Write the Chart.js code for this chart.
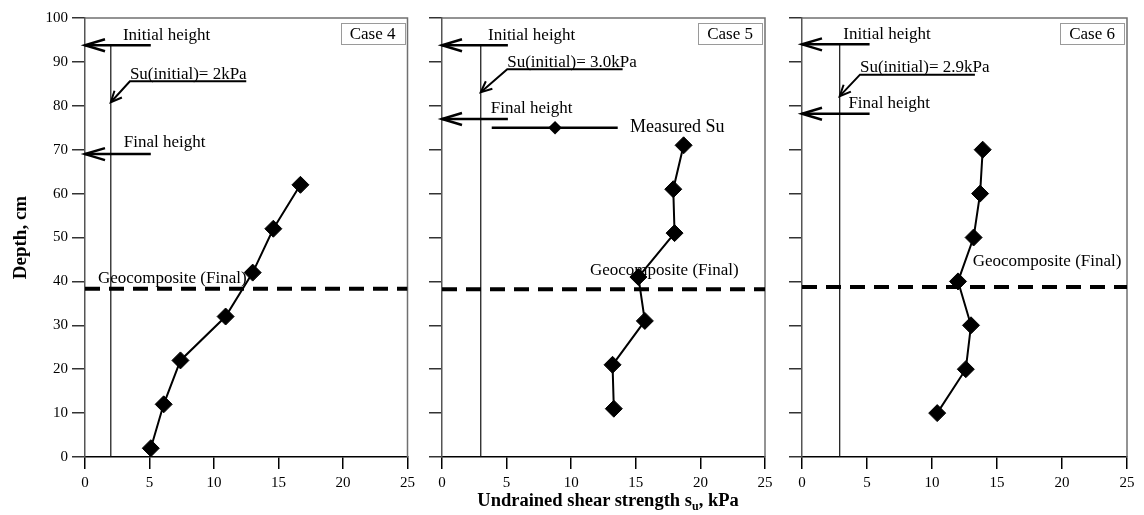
<!DOCTYPE html>
<html>
<head>
<meta charset="utf-8">
<script src="https://cdn.jsdelivr.net/npm/chart.js@4.4.1/dist/chart.umd.min.js"></script>
<style>
  html, body { margin: 0; padding: 0; background: #fff; }
  #wrap { position: relative; width: 1144px; height: 515px; overflow: hidden; background: #fff; }
  #wrap canvas { position: absolute; top: 0; }
  #xtitle {
    position: absolute; left: 408px; width: 400px; top: 489px;
    text-align: center; font: bold 18.5px "Liberation Serif", "Times New Roman", serif;
    line-height: 22px; color: #000; white-space: nowrap;
  }
  #xtitle sub { font-size: 12px; line-height: 0; vertical-align: -4px; }
</style>
</head>
<body>
<div id="wrap">
  <canvas id="p0" width="420" height="515" style="left:0px;width:420px;height:515px"></canvas>
  <canvas id="p1" width="360" height="515" style="left:420px;width:360px;height:515px"></canvas>
  <canvas id="p2" width="364" height="515" style="left:780px;width:364px;height:515px"></canvas>
  <div id="xtitle">Undrained shear strength s<sub>u</sub>, kPa</div>
</div>
<script>
// ---- measured profiles: depth (cm) and undrained shear strength (kPa) ----
const depthCase4 = [2, 12, 22, 32, 42, 52, 62];
const suCase4    = [5.1, 6.1, 7.4, 10.9, 13.0, 14.6, 16.7];
const depthCase5 = [11, 21, 31, 41, 51, 61, 71];
const suCase5    = [13.3, 13.2, 15.7, 15.2, 18.0, 17.9, 18.7];
const depthCase6 = [10, 20, 30, 40, 50, 60, 70];
const suCase6    = [10.4, 12.6, 13.0, 12.0, 13.2, 13.7, 13.9];

// ---- per-case annotations ----
const caseNames         = ['Case 4', 'Case 5', 'Case 6'];
const suInitial         = [2, 3.0, 2.9];
const suInitialText     = ['Su(initial)= 2kPa', 'Su(initial)= 3.0kPa', 'Su(initial)= 2.9kPa'];
const initialHeight     = [93.8, 93.8, 94.0];
const finalHeight       = [69, 77, 78.2];
const geocompositeDepth = [38.3, 38.2, 38.7];
const heightArrowTail   = [5.1, 5.1, 5.2];
const suLeaderStart     = [3.48, 5.05, 4.46];
const suLeaderEnd       = [12.5, 13.98, 13.3];
const suLeaderDepth     = [85.6, 88.3, 87.1];
const suLeaderTipDepth  = [80.8, 83.1, 82.2];
const initialLabelAt    = [[2.94, 95.1], [3.56, 95.1], [3.18, 95.3]];
const finalLabelAt      = [[3.0, 70.6], [3.77, 78.4], [3.57, 79.4]];
const geoLabelAt        = [[1.0, 39.7], [11.45, 41.5], [13.13, 43.6]];

// legend sample for the measured series (drawn in the Case 5 panel)
const legendSpan  = [3.85, 8.75, 13.6];
const legendDepth = 75;
const legendText  = 'Measured Su';
const legendTextSu = 14.55;

// ---- axes ----
const xTicks = [0, 5, 10, 15, 20, 25];
const yTicks = [0, 10, 20, 30, 40, 50, 60, 70, 80, 90, 100];

const SERIF = '"Liberation Serif", "Times New Roman", serif';
const depthSets = [depthCase4, depthCase5, depthCase6];
const suSets = [suCase4, suCase5, suCase6];

function pts(xs, ys) { return xs.map((v, i) => ({ x: v, y: ys[i] })); }

function drawHead(ctx, tip, from, len, half, width) {
  const ang = Math.atan2(tip.y - from.y, tip.x - from.x);
  const a = Math.atan2(half, len);
  const L = Math.hypot(len, half);
  ctx.save();
  ctx.strokeStyle = '#000';
  ctx.lineWidth = width;
  ctx.lineCap = 'butt';
  ctx.lineJoin = 'miter';
  ctx.beginPath();
  ctx.moveTo(tip.x - L * Math.cos(ang - a), tip.y - L * Math.sin(ang - a));
  ctx.lineTo(tip.x, tip.y);
  ctx.lineTo(tip.x - L * Math.cos(ang + a), tip.y - L * Math.sin(ang + a));
  ctx.stroke();
  ctx.restore();
}

const decor = {
  id: 'decor',
  beforeDatasetsDraw(chart) {
    const { ctx, chartArea: a, scales: { x, y } } = chart;
    const spec = chart.options.plugins.decor;
    ctx.save();
    // top and right frame
    ctx.strokeStyle = '#707070';
    ctx.lineWidth = 1.5;
    ctx.beginPath();
    ctx.moveTo(a.left, a.top);
    ctx.lineTo(a.right, a.top);
    ctx.lineTo(a.right, a.bottom);
    ctx.stroke();
    // annotation texts
    ctx.fillStyle = '#000';
    ctx.textAlign = 'left';
    spec.labels.forEach(l => {
      ctx.font = (l.size || 17) + 'px ' + SERIF;
      ctx.textBaseline = l.baseline || 'alphabetic';
      ctx.fillText(l.text, x.getPixelForValue(l.x), y.getPixelForValue(l.y));
    });
    ctx.restore();
  },
  afterDatasetsDraw(chart) {
    const { ctx } = chart;
    chart.data.datasets.forEach((ds, i) => {
      if (!ds.arrowHead) return;
      const els = chart.getDatasetMeta(i).data;
      const n = els.length;
      drawHead(ctx, els[n - 1], els[n - 2], ds.arrowHead.len, ds.arrowHead.half, ds.borderWidth);
    });
    // case tag
    const spec = chart.options.plugins.decor;
    const a = chart.chartArea;
    ctx.save();
    ctx.font = '17px ' + SERIF;
    const tw = ctx.measureText(spec.caseLabel).width;
    const w = tw + 18, h = 21;
    const bx = a.right - 3 - w, by = a.top + 5;
    ctx.fillStyle = '#fff';
    ctx.fillRect(bx, by, w, h);
    ctx.strokeStyle = '#9a9a9a';
    ctx.lineWidth = 1;
    ctx.strokeRect(Math.round(bx) + 0.5, Math.round(by) + 0.5, Math.round(w), h);
    ctx.fillStyle = '#000';
    ctx.textAlign = 'center';
    ctx.textBaseline = 'middle';
    ctx.fillText(spec.caseLabel, bx + w / 2, by + h / 2 + 1);
    ctx.restore();
  }
};

function buildPanel(i, canvasId, leftWidth, rightPad) {
  const datasets = [
    { // measured profile
      data: pts(suSets[i], depthSets[i]),
      showLine: true, borderColor: '#000', borderWidth: 2,
      pointStyle: 'rectRot', pointRadius: 8.5, pointBackgroundColor: '#000',
      pointBorderColor: '#000', pointBorderWidth: 1, order: 0
    },
    { // initial Su reference line
      data: [{ x: suInitial[i], y: 0 }, { x: suInitial[i], y: initialHeight[i] }],
      showLine: true, borderColor: '#111', borderWidth: 1.2, pointRadius: 0, order: 5
    },
    { // geocomposite level
      data: [{ x: 0, y: geocompositeDepth[i] }, { x: 25, y: geocompositeDepth[i] }],
      showLine: true, borderColor: '#000', borderWidth: 4, borderDash: [15, 9],
      pointRadius: 0, order: 4
    },
    { // initial height arrow
      data: [{ x: heightArrowTail[i], y: initialHeight[i] }, { x: 0, y: initialHeight[i] }],
      showLine: true, borderColor: '#000', borderWidth: 2.5, pointRadius: 0,
      arrowHead: { len: 20, half: 6 }, order: 3
    },
    { // final height arrow
      data: [{ x: heightArrowTail[i], y: finalHeight[i] }, { x: 0, y: finalHeight[i] }],
      showLine: true, borderColor: '#000', borderWidth: 2.5, pointRadius: 0,
      arrowHead: { len: 20, half: 6 }, order: 3
    },
    { // leader from the Su(initial) label to its line
      data: [
        { x: suLeaderEnd[i], y: suLeaderDepth[i] },
        { x: suLeaderStart[i], y: suLeaderDepth[i] },
        { x: suInitial[i], y: suLeaderTipDepth[i] }
      ],
      showLine: true, borderColor: '#000', borderWidth: 2, pointRadius: 0,
      arrowHead: { len: 11, half: 5 }, order: 3
    }
  ];

  const labels = [
    { text: 'Initial height', x: initialLabelAt[i][0], y: initialLabelAt[i][1] },
    { text: 'Final height', x: finalLabelAt[i][0], y: finalLabelAt[i][1] },
    { text: suInitialText[i], x: suLeaderStart[i], y: suLeaderDepth[i] + 0.6 },
    { text: 'Geocomposite (Final)', x: geoLabelAt[i][0], y: geoLabelAt[i][1] }
  ];

  if (i === 1) {
    datasets.push({
      data: legendSpan.map(v => ({ x: v, y: legendDepth })),
      showLine: true, borderColor: '#000', borderWidth: 2.5,
      pointStyle: 'rectRot', pointRadius: [0, 5, 0], pointBackgroundColor: '#000',
      pointBorderColor: '#000', order: 1
    });
    labels.push({ text: legendText, x: legendTextSu, y: legendDepth, baseline: 'middle', size: 18 });
  }

  return new Chart(document.getElementById(canvasId), {
    type: 'scatter',
    data: { datasets },
    plugins: [decor],
    options: {
      responsive: false,
      animation: false,
      devicePixelRatio: 1,
      layout: { padding: { left: 0, right: rightPad, top: 18, bottom: 0 } },
      plugins: {
        legend: { display: false },
        tooltip: { enabled: false },
        decor: { caseLabel: caseNames[i], labels }
      },
      scales: {
        x: {
          type: 'linear', min: 0, max: 25,
          afterBuildTicks(s) { s.ticks = xTicks.map(v => ({ value: v })); },
          ticks: { color: '#000', font: { family: SERIF, size: 15 }, padding: 5, maxRotation: 0 },
          grid: { drawOnChartArea: false, drawTicks: true, tickLength: 12, color: '#000', lineWidth: 1.5 },
          border: { display: true, color: '#000', width: 1.5 },
          afterFit(s) { s.height = 58; }
        },
        y: {
          type: 'linear', min: 0, max: 100,
          afterBuildTicks(s) { s.ticks = yTicks.map(v => ({ value: v })); },
          ticks: { display: i === 0, color: '#000', font: { family: SERIF, size: 15 }, padding: 4 },
          grid: { drawOnChartArea: false, drawTicks: true, tickLength: 13, color: '#333', lineWidth: 1.5 },
          border: { display: true, color: '#555', width: 1.5 },
          title: {
            display: i === 0, text: 'Depth, cm', color: '#000',
            font: { family: SERIF, size: 19, weight: 'bold' }, padding: { top: 10, bottom: 0 }
          },
          afterFit(s) { s.width = leftWidth; }
        }
      }
    }
  });
}

buildPanel(0, 'p0', 85, 12);
buildPanel(1, 'p1', 22, 15);
buildPanel(2, 'p2', 22, 17);
</script>
</body>
</html>
